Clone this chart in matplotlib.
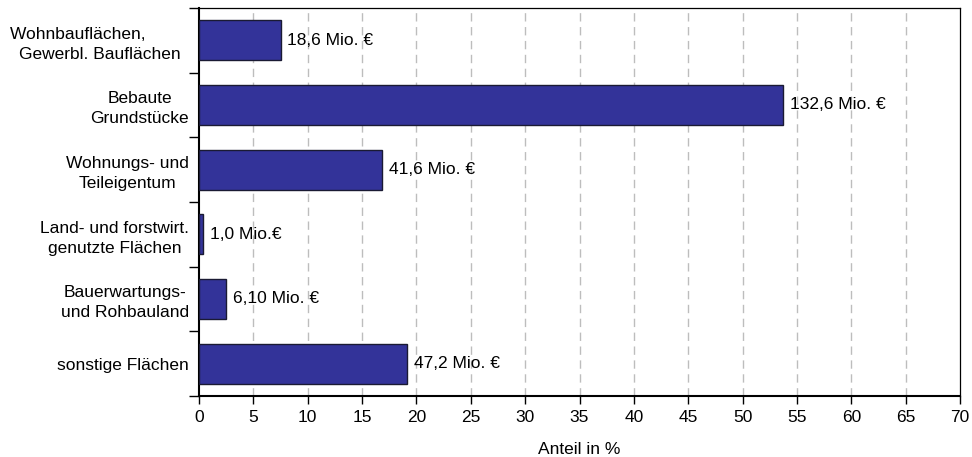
import numpy as np
import matplotlib.pyplot as plt

plt.rcParams['font.family'] = ['Liberation Sans', 'DejaVu Sans']

categories = ["Wohnbauflächen,         \nGewerbl. Bauflächen",
              "Bebaute\nGrundstücke",
              "Wohnungs- und\nTeileigentum",
              "Land- und forstwirt.\ngenutzte Flächen",
              "Bauerwartungs-\nund Rohbauland",
              "sonstige Flächen"]
anteil = [7.5, 53.7, 16.8, 0.4, 2.5, 19.1]
labels = ["18,6 Mio. €", "132,6 Mio. €", "41,6 Mio. €", "1,0 Mio.€",
          "6,10 Mio. €", "47,2 Mio. €"]

fs = 12.5
fig = plt.figure(figsize=(9.72, 4.57), dpi=100)
ax = fig.add_axes([0.2047, 0.1335, 0.7830, 0.849])

y = np.arange(len(categories))
ax.barh(y, anteil, height=0.62, color='#333399', edgecolor='#1a1a33', linewidth=1.0, zorder=3)

for yi, v, lab in zip(y, anteil, labels):
    ax.annotate(lab, (v, yi), xytext=(5, 0), textcoords='offset points',
                va='center', ha='left', fontsize=fs, zorder=4)

ax.set_xlim(0, 70)
ax.set_ylim(len(categories) - 0.5, -0.5)
ax.set_xticks(np.arange(0, 71, 5))
ax.set_yticks(np.arange(-0.5, len(categories), 1.0))
ax.set_yticklabels([])
ax.set_yticks(y, minor=True)
ax.set_yticklabels(categories, minor=True, fontsize=fs, ha='right',
                   multialignment='center', linespacing=1.4)
ax.tick_params(axis='y', which='minor', length=0, pad=7)
ax.tick_params(axis='y', which='major', length=7, width=1.0, direction='out')
ax.tick_params(axis='x', length=6, width=1.0, labelsize=fs, pad=4)

for xv in range(5, 70, 5):
    ax.axvline(xv, color='#bdbdbd', linestyle=(0, (6, 4)), linewidth=1.0, zorder=1)

for side in ['left', 'bottom']:
    ax.spines[side].set_linewidth(1.5)
for side in ['top', 'right']:
    ax.spines[side].set_linewidth(0.9)

ax.set_xlabel("Anteil in %", fontsize=fs, labelpad=12)

fig.savefig("out.png", dpi=100)
